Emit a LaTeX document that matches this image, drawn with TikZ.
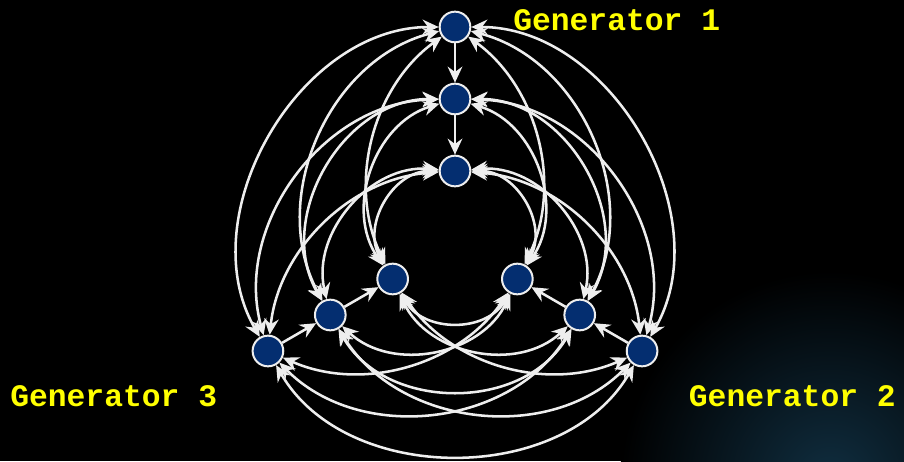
\documentclass[tikz,border=0pt]{standalone}
\usepackage{fontspec}
\setmonofont{Liberation Mono}
\usepackage{tikz}
\usetikzlibrary{arrows.meta, calc}
\definecolor{genBlue}{RGB}{4,46,112}
\definecolor{genYellow}{RGB}{255,255,0}
\definecolor{linkWhite}{RGB}{238,238,238}
\definecolor{glowBlue}{RGB}{16,46,64}

\begin{document}
\begin{tikzpicture}[x=0.75pt, y=0.75pt, >={Stealth[length=12pt,width=11pt,inset=4pt]},
  gen/.style={circle, draw=linkWhite, line width=1.5pt, fill=genBlue,
              minimum size=23pt, inner sep=0pt},
  link/.style={<->, draw=linkWhite, line width=1.9pt},
  feed/.style={->, draw=linkWhite, line width=1.9pt},
  lbl/.style={text=genYellow, inner sep=0pt,
              font=\fontsize{23.5}{28}\selectfont\ttfamily\bfseries}]

  \useasboundingbox (0,0) rectangle (904,461);
  \fill[black] (0,0) rectangle (904,461);
  \begin{scope}
    \clip (0,0) rectangle (904,461);
    \shade[inner color=glowBlue, outer color=black] (830,-20) circle (210);
  \end{scope}

  % three generators, three states each
  \coordinate (O) at (455,218);
  \foreach \k/\r in {1/216,2/144,3/72} {
    \node[gen] (a\k) at ($(O)+(90:\r)$)  {};
    \node[gen] (b\k) at ($(O)+(-30:\r)$) {};
    \node[gen] (c\k) at ($(O)+(210:\r)$) {};
  }

  \foreach \g in {a,b,c} {
    \draw[feed] (\g1) -- (\g2);
    \draw[feed] (\g2) -- (\g3);
  }

  % links between the generators
  \foreach \i/\j/\b/\l in {1/1/60/1.0, 1/2/52/1.0, 1/3/40/0.95,
                           2/1/52/1.0, 2/2/60/1.05, 2/3/54/1.02,
                           3/1/40/0.95, 3/2/54/1.02, 3/3/60/1.08} {
    \draw[link] (a\i) to[bend right=\b, looseness=\l] (c\j);
    \draw[link] (c\i) to[bend right=\b, looseness=\l] (b\j);
    \draw[link] (b\i) to[bend right=\b, looseness=\l] (a\j);
  }

  \node[lbl, anchor=west] (g1) at (513,441) {Generator 1};
  \node[lbl, anchor=east] (g2) at (896,65)  {Generator 2};
  \node[lbl, anchor=west] (g3) at (10,65)   {Generator 3};

\end{tikzpicture}
\end{document}
